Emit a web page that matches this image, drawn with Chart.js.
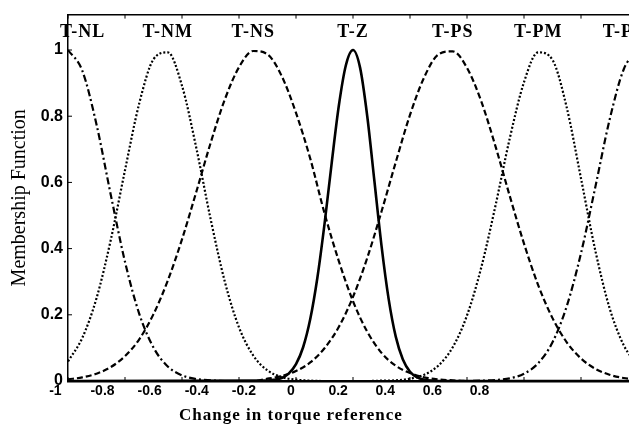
<!DOCTYPE html>
<html>
<head>
<meta charset="utf-8">
<script src="https://cdn.jsdelivr.net/npm/chart.js@4.4.1/dist/chart.umd.min.js"></script>
<style>
  html, body { margin: 0; padding: 0; background: #fff; overflow: hidden; }
  #wrap { width: 640px; height: 428px; }
</style>
</head>
<body>
<div id="wrap"><canvas id="mfChart" width="640" height="428"></canvas></div>
<script>
// membership function names, left to right
const mfNames = ['T-NL', 'T-NM', 'T-NS', 'T-Z', 'T-PS', 'T-PM', 'T-PL'];

// sample points (change in torque reference)
const xGrid = [-1, -0.95, -0.9, -0.85, -0.8, -0.75, -0.7, -0.65, -0.6, -0.55, -0.5,
  -0.45, -0.4, -0.35, -0.3, -0.25, -0.2, -0.15, -0.1, -0.05, 0,
  0.05, 0.1, 0.15, 0.2, 0.25, 0.3, 0.35, 0.4, 0.45, 0.5,
  0.55, 0.6, 0.65, 0.7, 0.75, 0.8, 0.85, 0.9, 0.95, 1];

const tNL = [1, 0.938, 0.775, 0.563, 0.36, 0.203, 0.101, 0.044, 0.017, 0.006, 0.002,
  0, 0, 0, 0, 0, 0, 0, 0, 0, 0,
  0, 0, 0, 0, 0, 0, 0, 0, 0, 0,
  0, 0, 0, 0, 0, 0, 0, 0, 0, 0];
const tNM = [0.059, 0.13, 0.25, 0.426, 0.637, 0.839, 0.972, 0.993, 0.892, 0.705, 0.491,
  0.301, 0.162, 0.077, 0.032, 0.012, 0.004, 0.001, 0, 0, 0,
  0, 0, 0, 0, 0, 0, 0, 0, 0, 0,
  0, 0, 0, 0, 0, 0, 0, 0, 0, 0];
const tNS = [0.005, 0.011, 0.022, 0.042, 0.075, 0.126, 0.202, 0.303, 0.428, 0.571, 0.718,
  0.85, 0.948, 0.997, 0.987, 0.921, 0.81, 0.672, 0.507, 0.363, 0.241,
  0.149, 0.085, 0.046, 0.024, 0.011, 0.005, 0.002, 0, 0, 0,
  0, 0, 0, 0, 0, 0, 0, 0, 0, 0];
const tPS = [0, 0, 0, 0, 0, 0, 0, 0, 0, 0, 0,
  0, 0, 0, 0.007, 0.015, 0.03, 0.056, 0.099, 0.163, 0.254,
  0.372, 0.512, 0.661, 0.804, 0.918, 0.987, 0.996, 0.946, 0.845, 0.709,
  0.559, 0.415, 0.289, 0.19, 0.117, 0.068, 0.037, 0.019, 0.009, 0.004];
const tPM = [0, 0, 0, 0, 0, 0, 0, 0, 0, 0, 0,
  0, 0, 0, 0, 0, 0, 0, 0, 0, 0,
  0, 0.001, 0.002, 0.007, 0.019, 0.047, 0.102, 0.198, 0.343, 0.53,
  0.733, 0.903, 0.993, 0.97, 0.826, 0.612, 0.395, 0.221, 0.108, 0.046];
const tPL = [0, 0, 0, 0, 0, 0, 0, 0, 0, 0, 0,
  0, 0, 0, 0, 0, 0, 0, 0, 0, 0,
  0, 0, 0, 0, 0, 0, 0, 0, 0.001, 0.003,
  0.008, 0.022, 0.054, 0.117, 0.226, 0.386, 0.585, 0.788, 0.942, 1];

// T-Z is narrow, so it gets a finer grid
const zGrid = [-1, -0.3, -0.275, -0.25, -0.225, -0.2, -0.175, -0.15, -0.125, -0.1, -0.075,
  -0.05, -0.025, 0, 0.025, 0.05, 0.075, 0.1, 0.125, 0.15, 0.175,
  0.2, 0.225, 0.25, 0.275, 0.3, 1];
const tZ = [0, 0.001, 0.004, 0.009, 0.023, 0.051, 0.102, 0.187, 0.312, 0.474, 0.657,
  0.83, 0.954, 1, 0.946, 0.8, 0.605, 0.409, 0.248, 0.134, 0.065,
  0.028, 0.011, 0.004, 0.001, 0, 0];

const xTickLabels = [-1, -0.8, -0.6, -0.4, -0.2, 0, 0.2, 0.4, 0.6, 0.8];
const xTickMarks = [-1, -0.8, -0.6, -0.4, -0.2, 0, 0.2, 0.4, 0.6, 0.8, 1];
const yTickLabels = [0, 0.2, 0.4, 0.6, 0.8, 1];

const xTitle = 'Change in torque reference';
const yTitle = 'Membership Function';

function toPoints(xs, ys) {
  return xs.map((x, i) => ({ x: x, y: ys[i] }));
}

const series = [tNL, tNM, tNS, tZ, tPS, tPM, tPL];
const grids = [xGrid, xGrid, xGrid, zGrid, xGrid, xGrid, xGrid];
const dashes = [[7, 3, 2, 3], [2, 2], [6, 3], [], [6, 3], [2, 2], [7, 3, 2, 3]];

const datasets = series.map((ys, i) => ({
  label: mfNames[i],
  data: toPoints(grids[i], ys),
  borderColor: '#000',
  borderWidth: i === 3 ? 2.6 : 2.2,
  borderDash: dashes[i],
  pointRadius: 0,
  fill: false,
  cubicInterpolationMode: 'monotone',
  xAxisID: 'x',
  yAxisID: 'y'
}));

// inward ticks, curve names and the x title
const overlay = {
  id: 'overlay',
  afterDraw(chart) {
    const { ctx, chartArea: a, scales } = chart;
    ctx.save();
    ctx.strokeStyle = '#000';
    ctx.lineWidth = 1;
    ctx.beginPath();
    xTickMarks.forEach(v => {
      const px = scales.x.getPixelForValue(v);
      ctx.moveTo(px, a.top); ctx.lineTo(px, a.top + 4);
      ctx.moveTo(px, a.bottom); ctx.lineTo(px, a.bottom - 4);
    });
    yTickLabels.forEach(v => {
      const py = scales.y.getPixelForValue(v);
      ctx.moveTo(a.left, py); ctx.lineTo(a.left + 4, py);
    });
    ctx.stroke();

    ctx.fillStyle = '#000';
    ctx.textBaseline = 'middle';
    ctx.textAlign = 'center';
    ctx.font = 'bold 18px "Liberation Serif"';
    ctx.letterSpacing = '1px';
    series.forEach((ys, i) => {
      const peak = ys.indexOf(Math.max(...ys));
      let px = scales.x.getPixelForValue(grids[i][peak]);
      const w = ctx.measureText(mfNames[i]).width;
      px = Math.max(px, a.left - 8 + w / 2);
      px = Math.min(px, a.right + 8 - w / 2);
      ctx.fillText(mfNames[i], px, a.top + 18);
    });

    ctx.font = 'bold 17px "Liberation Serif"';
    ctx.fillText(xTitle, scales.xl.getPixelForValue(0), a.bottom + 35);
    ctx.restore();
  }
};

const ctx = document.getElementById('mfChart').getContext('2d');
const mfChart = new Chart(ctx, {
  type: 'line',
  data: { datasets: datasets },
  options: {
    responsive: false,
    animation: false,
    events: [],
    layout: { padding: { top: 8, right: 2, left: 0, bottom: 0 } },
    plugins: { legend: { display: false }, tooltip: { enabled: false } },
    scales: {
      x: {
        type: 'linear',
        position: 'top',
        min: -1,
        max: 1,
        ticks: { display: false },
        grid: { drawOnChartArea: false, drawTicks: false },
        border: { color: '#000', width: 1.5 }
      },
      // bottom axis only carries the tick labels, which sit a bit left of the ticks
      xl: {
        type: 'linear',
        position: 'bottom',
        min: -0.9465,
        max: 1.4728,
        grid: { drawOnChartArea: false, drawTicks: false },
        border: { color: '#000', width: 2.5 },
        ticks: {
          autoSkip: false,
          maxRotation: 0,
          padding: 2,
          color: '#000',
          font: { family: '"Liberation Sans"', size: 14, weight: 'bold' },
          callback: v => String(v)
        },
        afterBuildTicks: scale => { scale.ticks = xTickLabels.map(v => ({ value: v })); },
        afterFit: scale => { scale.height = 47; }
      },
      y: {
        type: 'linear',
        position: 'left',
        min: 0,
        max: 1.107,
        grid: { drawOnChartArea: false, drawTicks: false },
        border: { color: '#000', width: 1.5 },
        ticks: {
          padding: 5,
          color: '#000',
          font: { family: '"Liberation Sans"', size: 16, weight: 'bold' },
          callback: v => String(v)
        },
        title: {
          display: true,
          text: yTitle,
          color: '#000',
          font: { family: '"Liberation Serif"', size: 20 },
          padding: { top: 8, bottom: 0 }
        },
        afterBuildTicks: scale => { scale.ticks = yTickLabels.map(v => ({ value: v })); },
        afterFit: scale => { scale.width = 68; }
      }
    }
  },
  plugins: [overlay]
});
</script>
</body>
</html>
